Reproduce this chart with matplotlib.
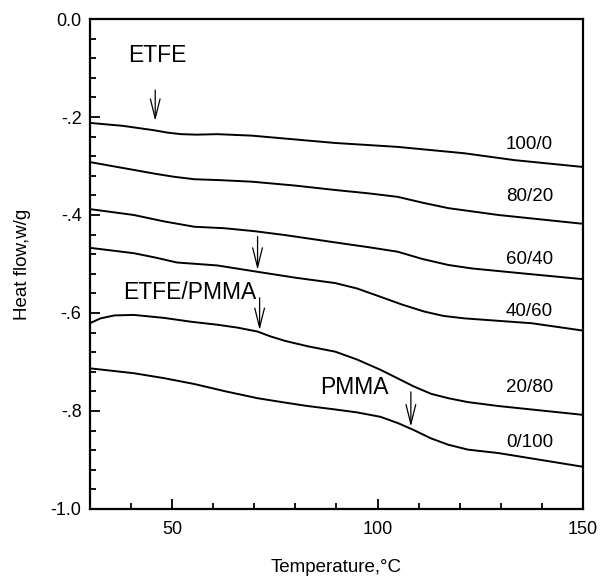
import matplotlib
matplotlib.use("Agg")
import matplotlib.pyplot as plt
from matplotlib.ticker import MultipleLocator, FixedLocator

plt.rcParams["font.family"] = ["Liberation Sans", "DejaVu Sans"]

# DSC traces (temperature in C, heat flow in W/g)
t_100_0 = [30, 38, 45.6, 49, 52.2, 56, 61.0, 69.4, 77.5, 89.7, 104.9, 121.1, 133.3, 150]
hf_100_0 = [-0.212, -0.218, -0.227, -0.232, -0.235, -0.236, -0.235, -0.238, -0.244, -0.253,
            -0.261, -0.274, -0.288, -0.302]

t_80_20 = [30, 40.7, 46, 50.5, 55.4, 62, 69.4, 80, 89.7, 98, 104.9, 111, 117.2, 129.4, 150]
hf_80_20 = [-0.292, -0.308, -0.316, -0.322, -0.327, -0.329, -0.332, -0.340, -0.349, -0.356,
            -0.363, -0.375, -0.386, -0.400, -0.418]

t_60_40 = [30, 40.7, 48, 55.4, 62.7, 70, 77.5, 89.7, 98, 104.9, 111, 117.2, 122.8, 135, 150]
hf_60_40 = [-0.388, -0.400, -0.413, -0.424, -0.427, -0.433, -0.441, -0.456, -0.466, -0.475,
            -0.490, -0.502, -0.509, -0.519, -0.531]

t_40_60 = [30, 40.7, 46, 51.2, 61.0, 70.8, 80, 89.7, 95, 100.7, 106, 111.3, 116, 121.1, 137.5, 150]
hf_40_60 = [-0.467, -0.478, -0.487, -0.497, -0.503, -0.516, -0.528, -0.539, -0.550, -0.567,
            -0.583, -0.597, -0.606, -0.611, -0.621, -0.636]

t_20_80 = [30, 32.6, 36, 40.7, 48, 54.7, 61.0, 66, 70.8, 74, 77.5, 83, 89.7, 95, 100.7, 105,
           108.8, 113, 117.2, 122, 129.4, 150]
hf_20_80 = [-0.621, -0.611, -0.605, -0.604, -0.610, -0.618, -0.624, -0.630, -0.638, -0.648,
            -0.657, -0.668, -0.679, -0.695, -0.716, -0.734, -0.750, -0.765, -0.774, -0.782,
            -0.790, -0.808]

t_0_100 = [30, 40.7, 48, 55.4, 63, 70.8, 77.5, 83, 89.7, 95, 100.7, 105, 108.8, 113, 117.2,
           122, 129.4, 150]
hf_0_100 = [-0.713, -0.723, -0.733, -0.745, -0.760, -0.774, -0.783, -0.790, -0.797, -0.803,
            -0.812, -0.825, -0.839, -0.856, -0.869, -0.879, -0.886, -0.914]

curves = [
    (t_100_0, hf_100_0),
    (t_80_20, hf_80_20),
    (t_60_40, hf_60_40),
    (t_40_60, hf_40_60),
    (t_20_80, hf_20_80),
    (t_0_100, hf_0_100),
]

ratio_labels = ["100/0", "80/20", "60/40", "40/60", "20/80", "0/100"]
ratio_label_y = [-0.257, -0.363, -0.490, -0.598, -0.753, -0.865]

# transition arrows: x, y_top, y_tip
arrow_x = [45.9, 70.8, 71.3, 108.1]
arrow_top = [-0.145, -0.444, -0.569, -0.761]
arrow_tip = [-0.208, -0.512, -0.635, -0.832]

notes = ["ETFE", "ETFE/PMMA", "PMMA"]
note_x = [46.3, 54.2, 94.4]
note_y = [-0.075, -0.559, -0.753]


fig = plt.figure(figsize=(6.03, 5.77), dpi=100)
ax = fig.add_axes([0.149, 0.118, 0.818, 0.849])

for t, hf in curves:
    ax.plot(t, hf, color="black", lw=1.4, solid_joinstyle="round")

for lab, y in zip(ratio_labels, ratio_label_y):
    ax.text(137, y, lab, ha="center", va="center", fontsize=13.5)

for x, y0, y1 in zip(arrow_x, arrow_top, arrow_tip):
    ax.annotate("", xy=(x, y1), xytext=(x, y0),
                arrowprops=dict(arrowstyle="->,head_length=1.4,head_width=0.35",
                                color="black", lw=0.9, shrinkA=0, shrinkB=0))

for s, x, y in zip(notes, note_x, note_y):
    ax.text(x, y, s, ha="center", va="center", fontsize=16.5)

ax.set_xlim(30, 150)
ax.set_ylim(-1.0, 0.0)

ax.xaxis.set_major_locator(FixedLocator([50, 100, 150]))
ax.xaxis.set_minor_locator(MultipleLocator(10))
ax.set_yticks([-1.0, -0.8, -0.6, -0.4, -0.2, 0.0])
ax.set_yticklabels(["-1.0", "-.8", "-.6", "-.4", "-.2", "0.0"])
ax.yaxis.set_minor_locator(MultipleLocator(0.04))

ax.tick_params(which="both", direction="in", top=False, right=False,
               labelsize=13, width=1.3)
ax.tick_params(axis="x", which="major", length=7, pad=9)
ax.tick_params(axis="y", which="major", length=7, pad=6)
ax.tick_params(which="minor", length=4)

for sp in ax.spines.values():
    sp.set_linewidth(1.6)

ax.set_xlabel("Temperature,°C", fontsize=13.5, labelpad=15)
ax.set_ylabel("Heat flow,w/g", fontsize=13.5, labelpad=14)

fig.savefig("out.png", dpi=100)
